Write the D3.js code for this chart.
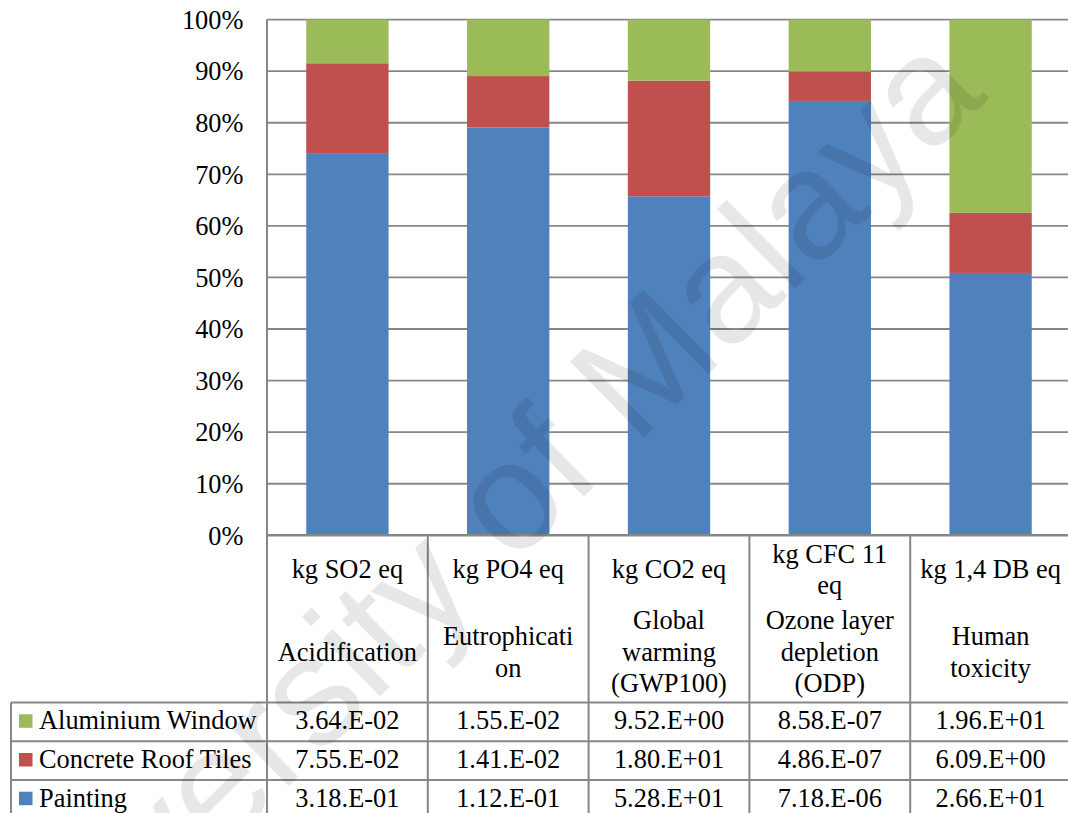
<!DOCTYPE html>
<html>
<head>
<meta charset="utf-8">
<script src="https://cdn.jsdelivr.net/npm/d3@7"></script>
<style>
  html, body { margin: 0; padding: 0; background: #ffffff; }
  svg { display: block; }
</style>
</head>
<body>
<script>
// Impact categories: unit row and category name row of the data table
const unitLabels = [["kg SO2 eq"], ["kg PO4 eq"], ["kg CO2 eq"], ["kg CFC 11", "eq"], ["kg 1,4 DB eq"]];
const impactNames = [["Acidification"], ["Eutrophicati", "on"], ["Global", "warming", "(GWP100)"],
                     ["Ozone layer", "depletion", "(ODP)"], ["Human", "toxicity"]];

// Series (table rows, top to bottom)
const seriesNames = ["Aluminium Window", "Concrete Roof Tiles", "Painting"];
const seriesColors = ["#9bbb59", "#c0504d", "#4f81bd"];
const aluminiumWindow   = [3.64e-2, 1.55e-2, 9.52, 8.58e-7, 1.96e1];
const concreteRoofTiles = [7.55e-2, 1.41e-2, 1.80e1, 4.86e-7, 6.09];
const painting          = [3.18e-1, 1.12e-1, 5.28e1, 7.18e-6, 2.66e1];

const yTicks = [0, 0.1, 0.2, 0.3, 0.4, 0.5, 0.6, 0.7, 0.8, 0.9, 1.0];

const W = 1068, H = 813;
const FONT = 26.4;
const SERIF = '"Liberation Serif", "Times New Roman", serif';
const SANS = '"Liberation Sans", Arial, sans-serif';
const GRID = "#878787";

const seriesValues = [aluminiumWindow, concreteRoofTiles, painting];
const rows = d3.range(unitLabels.length).map(i => {
  const r = { i };
  seriesNames.forEach((s, k) => { r[s] = seriesValues[k][i]; });
  return r;
});

const svg = d3.select("body").append("svg").attr("width", W).attr("height", H)
  .style("font-family", SERIF);

// Scales
const colScale = d3.scaleBand().domain(d3.range(rows.length)).range([267, 1071]);
const x = d3.scaleBand().domain(d3.range(rows.length)).range([267, 1071])
  .paddingInner(0.488).paddingOuter(0.244);
const y = d3.scaleLinear().domain([0, 1]).range([535.3, 19.6]);

// Horizontal gridlines
svg.append("g").selectAll("line").data(yTicks.filter(t => t > 0)).join("line")
  .attr("x1", 267).attr("x2", 1071)
  .attr("y1", d => y(d)).attr("y2", d => y(d))
  .attr("stroke", GRID).attr("stroke-width", 1.8);

// 100% stacked columns: Painting at the bottom, Aluminium Window on top
const stackKeys = ["Painting", "Concrete Roof Tiles", "Aluminium Window"];
const stacked = d3.stack().keys(stackKeys).offset(d3.stackOffsetExpand)(rows);
const colorOf = d3.scaleOrdinal().domain(seriesNames).range(seriesColors);

svg.append("g").selectAll("g").data(stacked).join("g")
  .attr("fill", d => colorOf(d.key))
  .selectAll("rect").data(d => d).join("rect")
  .attr("x", d => x(d.data.i))
  .attr("width", x.bandwidth())
  .attr("y", d => y(d[1]))
  .attr("height", d => y(d[0]) - y(d[1]));

// Y axis tick labels
const yAxis = d3.axisLeft(y).tickValues(yTicks).tickFormat(d3.format(".0%")).tickSize(0).tickPadding(0);
const yg = svg.append("g").attr("transform", "translate(243.5,0)").call(yAxis);
yg.select(".domain").remove();
yg.selectAll("text")
  .style("font-family", SERIF).style("font-size", FONT + "px")
  .attr("fill", "#000").attr("dy", "0.33em");

// Data table geometry
const headTop = y(0);
const rowTop = [702.5, 741.2, 779.9];
const rowH = 38.7;
const tableBottom = rowTop[2] + rowH;
const tbl = svg.append("g").attr("stroke", GRID).attr("stroke-width", 2).attr("fill", "none");

// vertical borders
tbl.append("line").attr("x1", 267).attr("x2", 267).attr("y1", y(1)).attr("y2", tableBottom);
colScale.domain().forEach(i => {
  const xr = colScale(i) + colScale.bandwidth();
  tbl.append("line").attr("x1", xr).attr("x2", xr).attr("y1", headTop).attr("y2", tableBottom);
});
tbl.append("line").attr("x1", 11).attr("x2", 11).attr("y1", rowTop[0]).attr("y2", tableBottom);
// horizontal borders
rowTop.concat([tableBottom]).forEach(yy => {
  tbl.append("line").attr("x1", 11).attr("x2", 1071).attr("y1", yy).attr("y2", yy);
});
// category axis baseline
svg.append("line").attr("x1", 266).attr("x2", 1071).attr("y1", headTop).attr("y2", headTop)
  .attr("stroke", GRID).attr("stroke-width", 2.6);

// Multi-line centred header text
const LH = 31.6;
function block(lines, cx, cy) {
  const t = svg.append("text").attr("text-anchor", "middle")
    .style("font-family", SERIF).style("font-size", FONT + "px").attr("fill", "#000");
  lines.forEach((s, k) => {
    t.append("tspan").attr("x", cx)
      .attr("y", cy + 9.3 - (lines.length - 1) * LH / 2 + k * LH).text(s);
  });
}
const cx = i => colScale(i) + colScale.bandwidth() / 2;
unitLabels.forEach((l, i) => block(l, cx(i), 569));
impactNames.forEach((l, i) => block(l, cx(i), 651.5));

// Values formatted like 3.64.E-02
function sci(v) {
  const e = Math.floor(Math.log10(v) + 1e-9);
  const m = v / Math.pow(10, e);
  const sign = e < 0 ? "-" : "+";
  return m.toFixed(2) + ".E" + sign + String(Math.abs(e)).padStart(2, "0");
}

seriesNames.forEach((name, r) => {
  const base = rowTop[r] + 26.8;
  svg.append("rect").attr("x", 19).attr("y", rowTop[r] + 11.8)
    .attr("width", 13.5).attr("height", 13.5).attr("fill", seriesColors[r]);
  svg.append("text").attr("x", 39).attr("y", base)
    .style("font-family", SERIF).style("font-size", FONT + "px").attr("fill", "#000").text(name);
  seriesValues[r].forEach((v, i) => {
    svg.append("text").attr("x", cx(i)).attr("y", base).attr("text-anchor", "middle")
      .style("font-family", SERIF).style("font-size", FONT + "px").attr("fill", "#000").text(sci(v));
  });
});

// Diagonal watermark across the chart
const wmSize = 154, wmAngle = -44.5;
const rad = wmAngle * Math.PI / 180;
const px = 5.5 * wmSize, py = -0.26 * wmSize;          // point on the text, in its own frame
const rx = px * Math.cos(rad) - py * Math.sin(rad);
const ry = px * Math.sin(rad) + py * Math.cos(rad);
const wx = 576.5 - rx, wy = 447.5 - ry;
svg.append("text")
  .attr("transform", `translate(${wx},${wy}) rotate(${wmAngle})`)
  .style("font-family", SANS)
  .style("font-size", wmSize + "px")
  .style("fill", "rgba(0,0,0,0.095)")
  .text("University of Malaya");
</script>
</body>
</html>
